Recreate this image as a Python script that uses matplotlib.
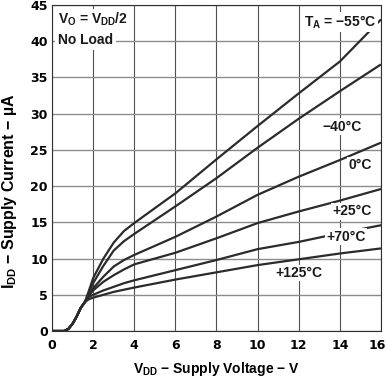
import numpy as np
import matplotlib
matplotlib.use("Agg")
import matplotlib.pyplot as plt
import matplotlib.transforms as mtransforms

plt.rcParams['font.family'] = ['Liberation Sans', 'DejaVu Sans']
plt.rcParams['font.weight'] = 'bold'
plt.rcParams['mathtext.fontset'] = 'custom'
plt.rcParams['mathtext.rm'] = 'Liberation Sans:bold'
plt.rcParams['mathtext.bf'] = 'Liberation Sans:bold'
plt.rcParams['mathtext.default'] = 'bf'

##############
##Curve data##
##############
# shared start-up region (all temperatures overlap here)
vdd_low = [0.0, 0.6, 0.8, 1.0, 1.2, 1.4, 1.6]
idd_low = [0.0, 0.0, 0.3, 1.0, 2.0, 3.2, 4.0]

vdd_hi = [1.8, 2.0, 2.5, 3.0, 3.5, 4.0, 6.0, 8.0, 10.0, 12.0, 14.0, 16.0]
idd_m55 = [5.6, 7.3, 10.0, 12.2, 13.8, 14.9, 19.0, 23.7, 28.3, 32.8, 37.2, 43.0]
idd_m40 = [5.3, 6.6, 9.0, 11.1, 12.4, 13.4, 17.2, 21.1, 25.3, 29.3, 33.1, 36.8]
idd_0 = [5.0, 5.9, 7.5, 8.9, 9.8, 10.5, 13.0, 15.8, 18.8, 21.3, 23.6, 26.0]
idd_25 = [4.9, 5.6, 6.8, 7.7, 8.5, 9.2, 10.8, 12.8, 14.9, 16.5, 18.0, 19.6]
idd_70 = [4.7, 5.0, 5.6, 6.1, 6.6, 7.0, 8.4, 9.8, 11.3, 12.3, 13.5, 14.6]
idd_125 = [4.4, 4.6, 5.0, 5.4, 5.7, 6.0, 7.1, 8.1, 9.1, 9.9, 10.7, 11.4]

curves = [idd_m55, idd_m40, idd_0, idd_25, idd_70, idd_125]
labels = ["$T_A$ = \u221255\u00b0C", "\u221240\u00b0C", "0\u00b0C", "+25\u00b0C", "+70\u00b0C", "+125\u00b0C"]
label_pos = [(14.0, 42.6), (14.1, 28.2), (15.0, 22.9), (14.6, 16.5), (14.3, 13.0), (12.0, 8.0)]

x_ticks = np.arange(0, 17, 2)
y_ticks = np.arange(0, 46, 5)

########
##Plot##
########
fig = plt.figure(figsize=(3.86, 3.78), dpi=100)
ax = fig.add_axes([0.1347, 0.1243, 0.8523, 0.8625])

for x in x_ticks:
    ax.axvline(x, color="#505050", lw=0.8, zorder=1)
for y in y_ticks:
    ax.axhline(y, color="#8c8c8c", lw=1.0, zorder=1)

for idd in curves:
    xs = vdd_low + vdd_hi
    ys = idd_low + idd
    ax.plot(xs, ys, color="#2b2b2b", lw=1.6, zorder=3, solid_capstyle="butt")

box = dict(facecolor="white", edgecolor="none", pad=1.0)
for lab, (lx, ly) in zip(labels, label_pos):
    ax.text(lx, ly, lab, ha="center", va="center", fontsize=10, fontweight="bold",
            color="#1a1a1a", zorder=4, bbox=box)

ax.text(0.3, 43.0, "$V_O$ = $V_{DD}$/2", ha="left", va="center", fontsize=10,
        color="#1a1a1a", zorder=4, bbox=box)
ax.text(0.3, 40.2, "No Load", ha="left", va="center", fontsize=10, fontweight="bold",
        color="#1a1a1a", zorder=4, bbox=dict(facecolor="white", edgecolor="none", pad=2.0))

ax.set_xlim(0, 16)
ax.set_ylim(0, 45)
ax.set_xticks(x_ticks)
ax.set_yticks(y_ticks)
ax.tick_params(length=0)
ax.tick_params(axis="x", pad=6)
ax.tick_params(axis="y", pad=3)
for lab in ax.get_xticklabels() + ax.get_yticklabels():
    lab.set_fontweight("bold")
    lab.set_fontfamily("DejaVu Sans")
    lab.set_fontsize(9)
# keep the last x tick label inside the figure
last = ax.get_xticklabels()[-1]
last.set_transform(last.get_transform() + mtransforms.ScaledTranslation(-4/100, 0, fig.dpi_scale_trans))

for sp in ax.spines.values():
    sp.set_color("#303030")
    sp.set_linewidth(0.8)

ax.set_xlabel("$V_{DD}$ \u2212 Supply Voltage \u2212 V", fontsize=10, fontweight="bold")
ax.xaxis.set_label_coords(0.5, -0.09)
ax.set_ylabel("$I_{DD}$ \u2212 Supply Current \u2212 \u00b5A", fontsize=11.5, fontweight="bold")
ax.yaxis.label.set_verticalalignment("center")
ax.yaxis.set_label_coords(-0.13, 0.43)

plt.savefig("out.png", dpi=100)
